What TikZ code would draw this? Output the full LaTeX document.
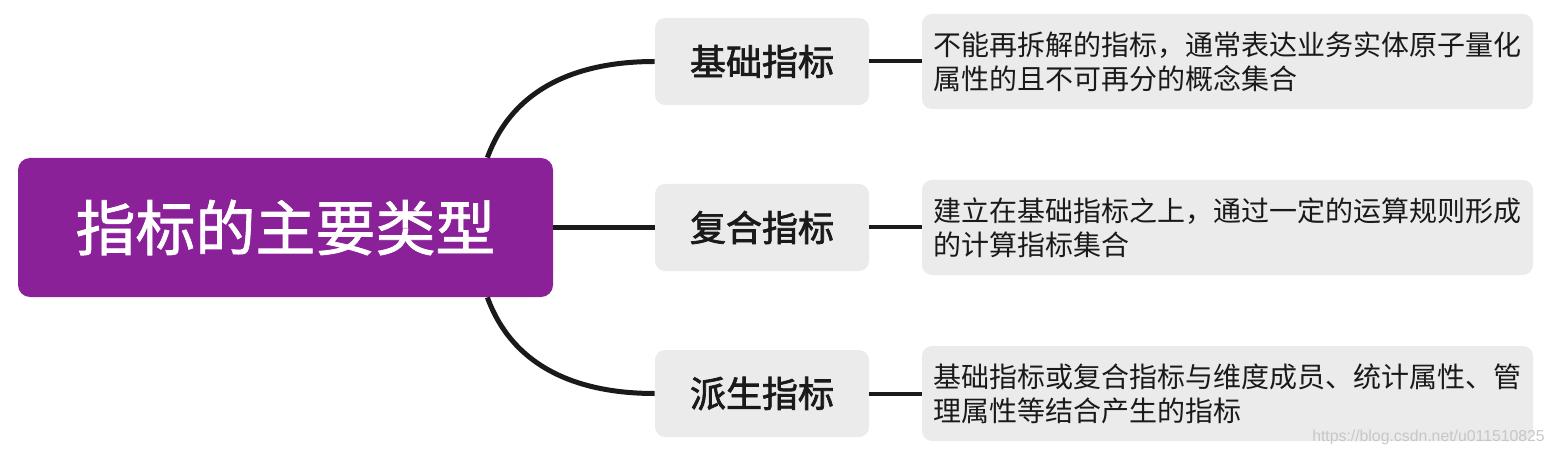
\documentclass[tikz,border=0pt]{standalone}
\usepackage{fontspec}
\setmainfont{Noto Sans CJK SC}
\newfontfamily\rootfont[FakeBold=1.2]{Noto Sans CJK SC}
\newfontfamily\branchfont[FakeBold=2]{Noto Sans CJK SC}
\newfontfamily\wmfont{Liberation Sans}
\usetikzlibrary{positioning}
\definecolor{rootpurple}{HTML}{8A2199}
\definecolor{boxgray}{HTML}{EBEBEB}
\definecolor{linegray}{HTML}{1A1A1A}
\begin{document}
\begin{tikzpicture}[x=0.5pt, y=-0.5pt,
root/.style={rectangle, rounded corners=6pt, fill=rootpurple, text=white, minimum width=267.5pt, minimum height=69.5pt, font=\rootfont\fontsize{30}{36}\selectfont},
branch/.style={rectangle, rounded corners=5pt, fill=boxgray, text=linegray, minimum width=107pt, minimum height=43.5pt, font=\branchfont\fontsize{18}{22}\selectfont},
detail/.style={rectangle, rounded corners=5pt, fill=boxgray, text=linegray, minimum width=305.5pt, minimum height=47.5pt, align=left, font=\fontsize{14}{17}\selectfont},
rootlink/.style={draw=linegray, line width=2.5pt},
link/.style={draw=linegray, line width=2pt},
node distance=83pt
]
\useasboundingbox (0,0) rectangle (1556,454);
%Nodes
\node[root]      (root)   at (285.5,227.5)                        {指标的主要类型};
\node[branch]    (b2)     [right of=root, node distance=238.25pt] {复合指标};
\node[branch]    (b1)     [above of=b2]                           {基础指标};
\node[branch]    (b3)     [below of=b2]                           {派生指标};
\node[detail]    (d1)     [right of=b1, node distance=232.75pt]   {不能再拆解的指标，通常表达业务实体原子量化\\属性的且不可再分的概念集合};
\node[detail]    (d2)     [right of=b2, node distance=232.75pt]   {建立在基础指标之上，通过一定的运算规则形成\\的计算指标集合};
\node[detail]    (d3)     [right of=b3, node distance=232.75pt]   {基础指标或复合指标与维度成员、统计属性、管\\理属性等结合产生的指标};
\node[font=\wmfont\fontsize{7.9}{9}\selectfont, text=black!22] (wm) at (1428.5,437) {https://blog.csdn.net/u011510825};
\coordinate (r1) at ([xshift=-33pt]root.north east);
\coordinate (r3) at ([xshift=-33pt]root.south east);
%Lines
\draw[rootlink] (r1) to[out=70, in=180] (b1.west);
\draw[rootlink] (root.east) -- (b2.west);
\draw[rootlink] (r3) to[out=-70, in=180] (b3.west);
\draw[link] (b1.east) -- (d1.west);
\draw[link] (b2.east) -- (d2.west);
\draw[link] (b3.east) -- (d3.west);
\end{tikzpicture}
\end{document}
